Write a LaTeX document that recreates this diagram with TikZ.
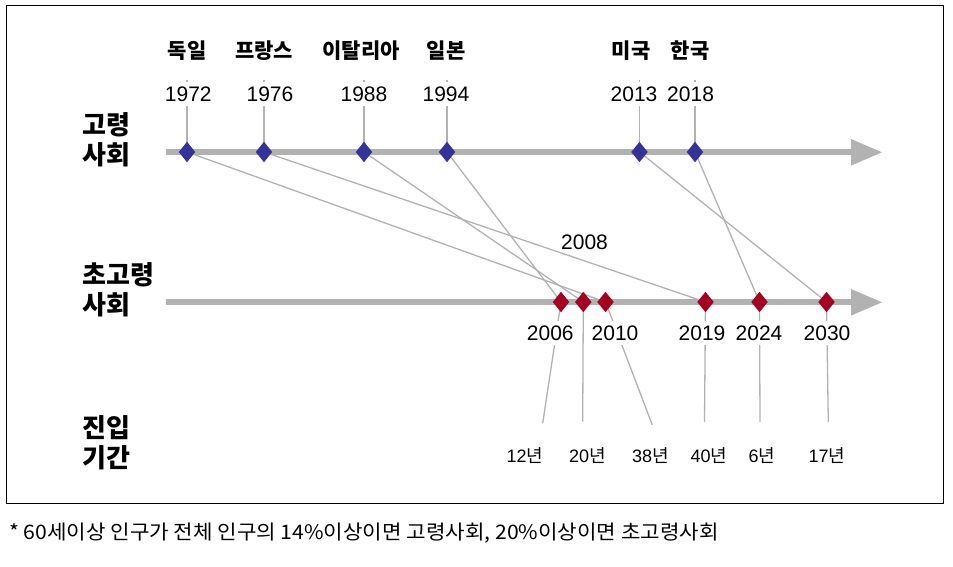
\documentclass[tikz,border=0pt]{standalone}
\usepackage{fontspec}
\setmainfont{Liberation Sans}
\newfontfamily\kr{Noto Sans CJK KR}
\usetikzlibrary{shapes.geometric}
\pgfdeclarelayer{bg}
\pgfsetlayers{bg,main}
\definecolor{axgray}{HTML}{B2B2B2}
\definecolor{dblue}{HTML}{333399}
\definecolor{dred}{HTML}{A50021}
\begin{document}
\begin{tikzpicture}[x=1pt,y=-1pt,
  dia/.style={diamond, inner sep=0pt, minimum width=16.6pt, minimum height=20.6pt, draw=none},
  hid/.style={dia, fill=dblue},
  superd/.style={dia, fill=dred},
  link/.style={draw=axgray, line width=1.3pt},
  axisline/.style={draw=axgray, line width=6.7pt},
  axishead/.style={fill=axgray, draw=none},
  yr/.style={font=\fontsize{21}{24}\selectfont, fill=white, inner xsep=1pt, inner ysep=4.5pt},
  ctry/.style={font=\kr\bfseries\fontsize{21}{24}\selectfont, inner sep=0pt},
  side/.style={font=\kr\bfseries\fontsize{26}{30}\selectfont, align=left, anchor=west, inner sep=0pt},
  per/.style={font=\fontsize{18}{20}\selectfont, inner sep=0pt},
  note/.style={font=\kr\fontsize{20}{22}\selectfont, anchor=west, inner sep=0pt}
]
\useasboundingbox (0,0) rectangle (953,566);
\draw[line width=1.3pt] (6.5,5.5) rectangle (943.5,503.5);

% axes
\begin{pgfonlayer}{bg}
\draw[axisline] (166,152) -- (852,152);
\fill[axishead] (851,139) -- (882,152.3) -- (851,165.6) -- cycle;
\draw[axisline] (166,302) -- (852,302);
\fill[axishead] (851,289) -- (882,302.3) -- (851,315.6) -- cycle;
\end{pgfonlayer}

% side labels
\node[side] (lab1) at (82,140) {고령\\사회};
\node[side] (lab2) at (82,290) {초고령\\사회};
\node[side] (lab3) at (82,443) {진입\\기간};

% countries
\node[ctry] (c1) at (187,51) {독일};
\node[ctry] (c2) at (264,51) {프랑스};
\node[ctry] (c3) at (361,51) {이탈리아};
\node[ctry] (c4) at (446,51) {일본};
\node[ctry] (c5) at (631,51) {미국};
\node[ctry] (c6) at (690,51) {한국};

% aged-society diamonds
\node[hid] (h1972) at (187,152) {};
\node[hid] (h1976) at (264,152) {};
\node[hid] (h1988) at (364,152) {};
\node[hid] (h1994) at (447,152) {};
\node[hid] (h2013) at (639.5,152) {};
\node[hid] (h2018) at (695,152) {};

% top ticks
\coordinate (t1972) at (187,80);
\coordinate (t1976) at (264,80);
\coordinate (t1988) at (364,80);
\coordinate (t1994) at (447,80);
\coordinate (t2013) at (639.5,80);
\coordinate (t2018) at (695,80);

% year labels top
\node[yr] (y1972) at (188.3,94) {1972};
\node[yr] (y1976) at (270,94) {1976};
\node[yr] (y1988) at (364,94) {1988};
\node[yr] (y1994) at (446,94) {1994};
\node[yr] (y2013) at (634,94) {2013};
\node[yr] (y2018) at (690.6,94) {2018};

% super-aged diamonds
\node[superd] (s2006) at (561,302) {};
\node[superd] (s2008) at (583.3,302) {};
\node[superd] (s2010) at (605.5,302) {};
\node[superd] (s2019) at (705.5,302) {};
\node[superd] (s2024) at (759.5,302) {};
\node[superd] (s2030) at (826.5,302) {};

% year labels bottom
\node[yr] (z2006) at (550.3,333.3) {2006};
\node[yr] (z2010) at (615,333.3) {2010};
\node[yr] (z2019) at (702,333.3) {2019};
\node[yr] (z2024) at (759,333.3) {2024};
\node[yr] (z2030) at (827,333.3) {2030};
\node[font=\fontsize{21}{24}\selectfont, inner sep=0pt] (z2008) at (584.5,242.5) {2008};

% lower line ends
\coordinate (e2006) at (542.7,423.3);
\coordinate (e2008) at (582.7,421.7);
\coordinate (e2010) at (652.3,425);
\coordinate (e2019) at (704.5,422);
\coordinate (e2024) at (760,422);
\coordinate (e2030) at (828.3,422);

% entry periods
\node[per] (p1) at (525,455.5) {12{\kr 년}};
\node[per] (p2) at (587.5,455.5) {20{\kr 년}};
\node[per] (p3) at (650.5,455.5) {38{\kr 년}};
\node[per] (p4) at (709,455.5) {40{\kr 년}};
\node[per] (p5) at (762,455.5) {6{\kr 년}};
\node[per] (p6) at (827,455.5) {17{\kr 년}};

% connectors
\begin{pgfonlayer}{bg}
\foreach \y in {1972,1976,1988,1994,2013,2018}{
  \draw[link] (t\y) -- (h\y.center);
}
\draw[link] (h1972.center) -- (s2010.center);
\draw[link] (h1976.center) -- (s2019.center);
\draw[link] (h1988.center) -- (s2008.center);
\draw[link] (h1994.center) -- (s2006.center);
\draw[link] (h2013.center) -- (s2030.center);
\draw[link] (h2018.center) -- (s2024.center);
\foreach \y in {2006,2008,2010,2019,2024,2030}{
  \draw[link] (s\y.center) -- (e\y);
}
\end{pgfonlayer}

% footnote
\node[note] (fn) at (9,533) {\scalebox{1.06}[1]{* 60세이상 인구가 전체 인구의 14\%이상이면 고령사회, 20\%이상이면 초고령사회}};
\end{tikzpicture}
\end{document}
